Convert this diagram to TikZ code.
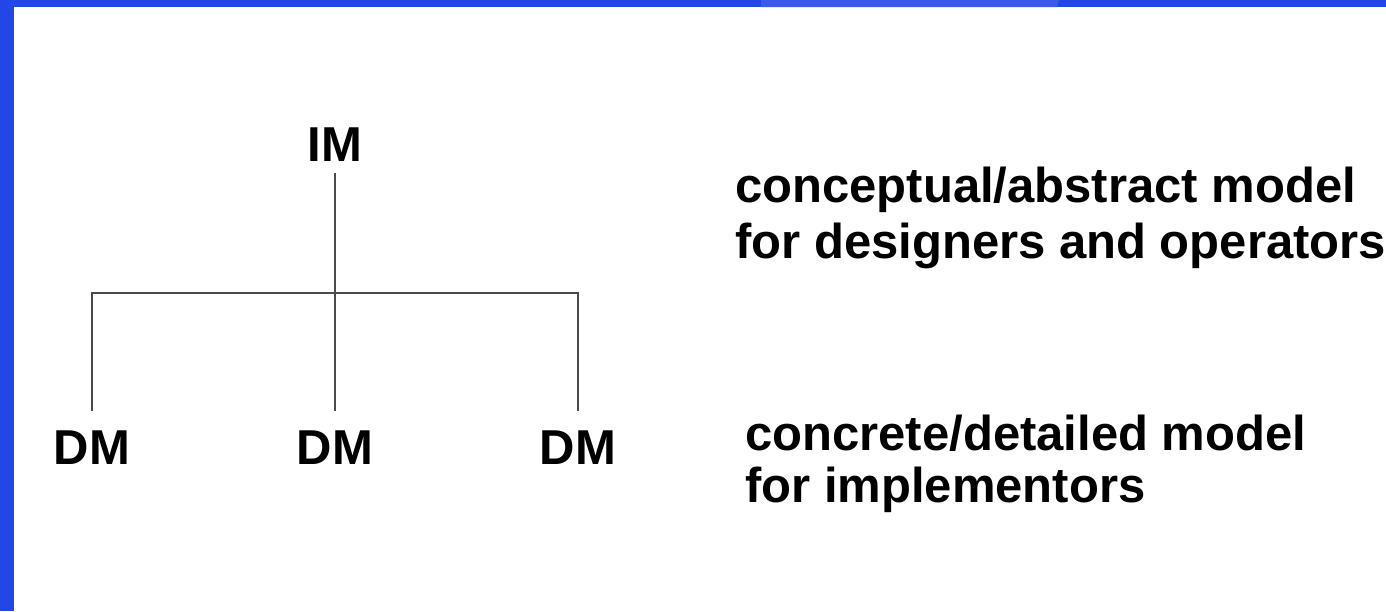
\documentclass[tikz,border=0pt]{standalone}
\usepackage{fontspec}
\setmainfont{Liberation Sans}
\definecolor{frameblue}{HTML}{2347E6}
\definecolor{patchblue}{HTML}{3A5BE8}
\definecolor{linegray}{HTML}{4A4A4A}
\begin{document}
\begin{tikzpicture}[x=1pt,y=-1pt,
  lbl/.style={font=\fontsize{49}{58}\selectfont\bfseries, anchor=base, inner sep=0pt},
  desc/.style={anchor=base west, align=left, inner sep=0pt},
  tree/.style={draw=linegray, line width=1.8pt}]
\useasboundingbox (0,0) rectangle (1386,611);
\fill[white] (0,0) rectangle (1386,611);
\fill[frameblue] (0,0) rectangle (1386,7);
\fill[frameblue] (0,0) rectangle (14,611);
\fill[patchblue] (761,0) -- (1059,0) -- (1057,7) -- (761,7) -- cycle;
% labels
\node[lbl, inner ysep=12pt] (IM) at (335,161) {IM};
\node[lbl, inner ysep=19pt] (DM1) at (92,464) {DM};
\node[lbl, inner ysep=19pt] (DM2) at (335,464) {DM};
\node[lbl, inner ysep=19pt] (DM3) at (578,464) {DM};
\coordinate (j) at (335,293);
\draw[tree] (IM.south) -- (DM2.north);
\draw[tree] (DM1.north) |- (j) -| (DM3.north);
\node[desc, font=\fontsize{49}{56}\selectfont\bfseries] (top) at (735,258) {conceptual/abstract model\\for designers and operators};
\node[desc, font=\fontsize{49}{52}\selectfont\bfseries] (bot) at (745,502) {concrete/detailed model\\for implementors};
\end{tikzpicture}
\end{document}
